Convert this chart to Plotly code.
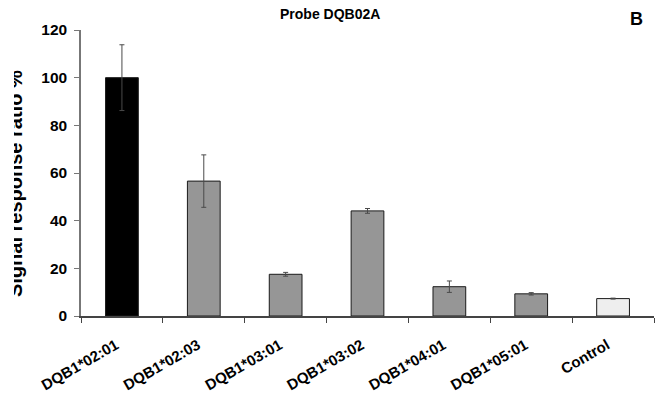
import plotly.graph_objects as go

# Alleles probed and their normalised signal responses
alleles = ["DQB1*02:01", "DQB1*02:03", "DQB1*03:01", "DQB1*03:02",
           "DQB1*04:01", "DQB1*05:01", "Control"]
response = [100.0, 56.6, 17.5, 44.1, 12.3, 9.3, 7.3]
response_err = [13.8, 11.0, 0.8, 1.0, 2.4, 0.5, 0.2]
bar_colors = ["#000000", "#969696", "#969696", "#969696",
              "#969696", "#969696", "#eeeeee"]
y_ticks = [0, 20, 40, 60, 80, 100, 120]

FONT = "Liberation Sans, Arial, sans-serif"

# plot-area geometry in pixels (used to place the free-floating labels)
W, H = 656, 396
L, R, T, B = 81, 2, 30, 80
PW, PH = W - L - R, H - T - B


def px_x(px):
    return (px - L) / PW


def px_y(py):
    return (H - B - py) / PH


fig = go.Figure(
    go.Bar(
        x=alleles,
        y=response,
        width=0.4,
        marker=dict(color=bar_colors, line=dict(color="#1a1a1a", width=1)),
        error_y=dict(type="data", array=response_err, visible=True,
                     color="#4a4a4a", thickness=1, width=2.5),
        showlegend=False,
    )
)

fig.update_layout(
    width=W, height=H,
    margin=dict(l=L, r=R, t=T, b=B, pad=0, autoexpand=False),
    paper_bgcolor="white", plot_bgcolor="white",
    font=dict(family=FONT, color="black"),
    bargap=0.6,
)

fig.update_xaxes(
    type="category",
    automargin=False,
    showline=True, linecolor="#444444", linewidth=1.5,
    ticks="outside", ticklen=5, tickcolor="#444444", tickwidth=1,
    tickson="boundaries",
    tickangle=-30,
    ticklabelstandoff=13,
    ticklabelshift=-6,
    tickfont=dict(family=FONT, size=15, weight="bold", color="black"),
    showgrid=False,
)

fig.update_yaxes(
    range=[0, 120],
    automargin=False,
    tickvals=y_ticks,
    showline=True, linecolor="#777777", linewidth=1.5,
    ticks="outside", ticklen=5, tickcolor="#777777", tickwidth=1,
    tickfont=dict(family=FONT, size=15.5, weight="bold", color="black"),
    ticklabelstandoff=4,
    showgrid=False, zeroline=False,
)

annotations = [
    # chart title
    dict(text="Probe DQB02A", x=px_x(330), y=px_y(14), xref="paper", yref="paper",
         xanchor="center", yanchor="middle", showarrow=False,
         font=dict(family=FONT, size=14, weight="bold", color="black")),
    # panel letter
    dict(text="B", x=px_x(636), y=px_y(19), xref="paper", yref="paper",
         xanchor="center", yanchor="middle", showarrow=False,
         font=dict(family=FONT, size=18, weight="bold", color="black")),
    # y-axis title
    dict(text="Signal response ratio %", textangle=-90,
         x=px_x(15), y=px_y(184), xref="paper", yref="paper",
         xanchor="center", yanchor="middle", showarrow=False,
         font=dict(family=FONT, size=20, weight="bold", color="black")),
    # white strip along the left edge that trims the y-axis title
    dict(text=" ", x=px_x(0), y=px_y(180), xref="paper", yref="paper",
         xanchor="left", yanchor="middle", showarrow=False,
         width=14, height=320, bgcolor="white", borderpad=0, borderwidth=0),
]
fig.update_layout(annotations=annotations)

fig.write_html("out.html")
